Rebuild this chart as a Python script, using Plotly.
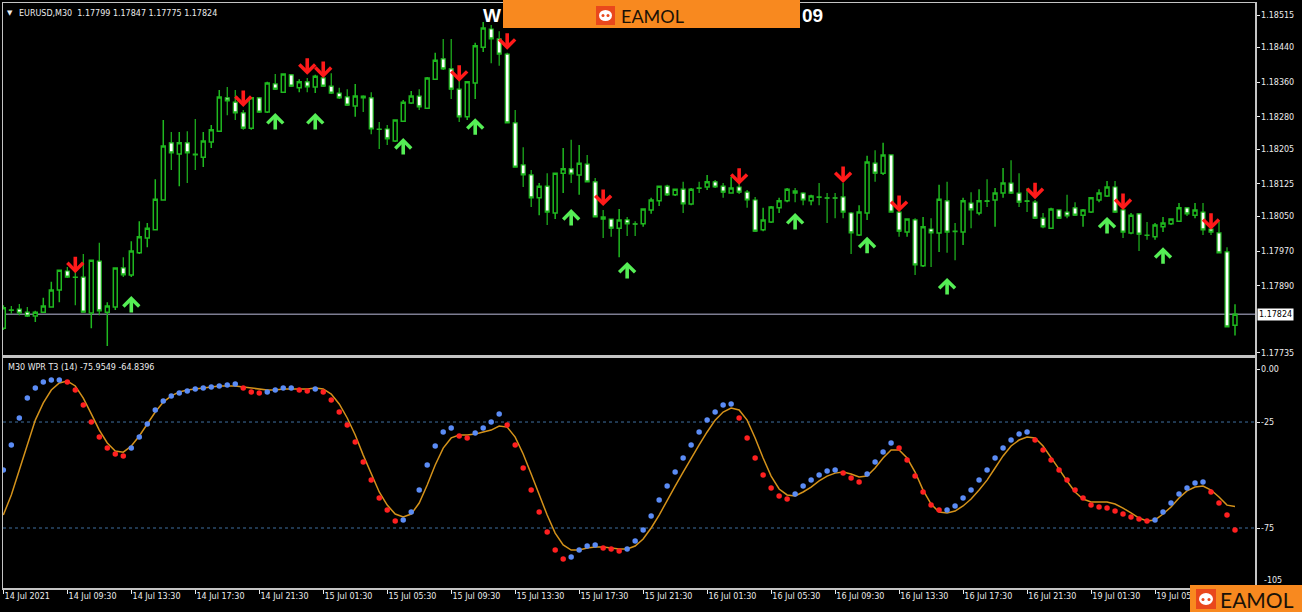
import plotly.graph_objects as go

# ---------------- data ----------------
tick_positions = [0, 8, 16, 24, 32, 40, 48, 56, 64, 72, 80, 88, 96, 104, 112, 120, 128, 136, 144]
tick_labels = ["14 Jul 2021", "14 Jul 09:30", "14 Jul 13:30", "14 Jul 17:30", "14 Jul 21:30",
               "15 Jul 01:30", "15 Jul 05:30", "15 Jul 09:30", "15 Jul 13:30", "15 Jul 17:30",
               "15 Jul 21:30", "16 Jul 01:30", "16 Jul 05:30", "16 Jul 09:30", "16 Jul 13:30",
               "16 Jul 17:30", "16 Jul 21:30", "19 Jul 01:30", "19 Jul 05:30"]

open_p = [1.17792, 1.17834, 1.17836, 1.17829, 1.17820, 1.17829, 1.17841, 1.17880, 1.17924, 1.17910,
          1.17910, 1.17827, 1.17947, 1.17829, 1.17841, 1.17931, 1.17915, 1.17966, 1.18000, 1.18019,
          1.18088, 1.18220, 1.18194, 1.18220, 1.18194, 1.18187, 1.18222, 1.18247, 1.18324, 1.18314,
          1.18289, 1.18254, 1.18324, 1.18291, 1.18356, 1.18337, 1.18377, 1.18347, 1.18361, 1.18349,
          1.18370, 1.18351, 1.18335, 1.18326, 1.18305, 1.18328, 1.18324, 1.18252, 1.18252, 1.18224,
          1.18270, 1.18312, 1.18328, 1.18300, 1.18367, 1.18414, 1.18391, 1.18344, 1.18280, 1.18358,
          1.18441, 1.18483, 1.18460, 1.18425, 1.18266, 1.18169, 1.18146, 1.18093, 1.18120, 1.18058,
          1.18150, 1.18160, 1.18146, 1.18171, 1.18130, 1.18049, 1.18044, 1.18023, 1.18042, 1.18033,
          1.18033, 1.18065, 1.18086, 1.18120, 1.18100, 1.18113, 1.18079, 1.18116, 1.18118, 1.18130,
          1.18120, 1.18104, 1.18118, 1.18106, 1.18088, 1.18019, 1.18037, 1.18070, 1.18086, 1.18109,
          1.18104, 1.18086, 1.18095, 1.18093, 1.18093, 1.18095, 1.18058, 1.18007, 1.18058, 1.18173,
          1.18150, 1.18192, 1.18060, 1.18014, 1.18042, 1.17936, 1.18021, 1.18012, 1.18086, 1.18016,
          1.18014, 1.18081, 1.18058, 1.18086, 1.18088, 1.18104, 1.18127, 1.18104, 1.18086, 1.18083,
          1.18046, 1.18023, 1.18065, 1.18060, 1.18070, 1.18053, 1.18060, 1.18088, 1.18097, 1.18118,
          1.18065, 1.18012, 1.18056, 1.18007, 1.18003, 1.18026, 1.18033, 1.18039, 1.18070, 1.18053,
          1.18060, 1.18021, 1.18012, 1.17968, 1.17799]

high_p = [1.17845, 1.17843, 1.17848, 1.17841, 1.17832, 1.17862, 1.17899, 1.17926, 1.17933, 1.17956,
          1.17963, 1.17949, 1.17989, 1.17852, 1.17931, 1.17956, 1.17993, 1.18039, 1.18035, 1.18136,
          1.18273, 1.18245, 1.18245, 1.18247, 1.18275, 1.18245, 1.18261, 1.18342, 1.18349, 1.18342,
          1.18296, 1.18326, 1.18326, 1.18361, 1.18379, 1.18381, 1.18379, 1.18367, 1.18370, 1.18377,
          1.18381, 1.18381, 1.18347, 1.18344, 1.18356, 1.18330, 1.18337, 1.18268, 1.18261, 1.18273,
          1.18319, 1.18340, 1.18344, 1.18372, 1.18428, 1.18460, 1.18460, 1.18372, 1.18361, 1.18451,
          1.18499, 1.18492, 1.18478, 1.18428, 1.18296, 1.18210, 1.18157, 1.18127, 1.18150, 1.18150,
          1.18208, 1.18227, 1.18215, 1.18192, 1.18139, 1.18065, 1.18044, 1.18067, 1.18049, 1.18039,
          1.18067, 1.18093, 1.18120, 1.18123, 1.18113, 1.18130, 1.18116, 1.18130, 1.18146, 1.18134,
          1.18127, 1.18141, 1.18141, 1.18111, 1.18095, 1.18070, 1.18074, 1.18093, 1.18116, 1.18116,
          1.18106, 1.18100, 1.18127, 1.18104, 1.18104, 1.18127, 1.18060, 1.18076, 1.18190, 1.18203,
          1.18220, 1.18192, 1.18088, 1.18046, 1.18046, 1.18049, 1.18046, 1.18123, 1.18130, 1.18035,
          1.18093, 1.18106, 1.18113, 1.18136, 1.18116, 1.18162, 1.18180, 1.18150, 1.18116, 1.18088,
          1.18058, 1.18070, 1.18065, 1.18100, 1.18083, 1.18067, 1.18095, 1.18113, 1.18132, 1.18132,
          1.18079, 1.18058, 1.18058, 1.18037, 1.18035, 1.18049, 1.18046, 1.18081, 1.18072, 1.18081,
          1.18081, 1.18042, 1.18039, 1.17979, 1.17847]

low_p = [1.17788, 1.17825, 1.17822, 1.17818, 1.17806, 1.17827, 1.17839, 1.17852, 1.17908, 1.17845,
         1.17829, 1.17792, 1.17822, 1.17751, 1.17834, 1.17910, 1.17910, 1.17963, 1.17979, 1.18019,
         1.18088, 1.18157, 1.18120, 1.18127, 1.18157, 1.18164, 1.18208, 1.18247, 1.18284, 1.18273,
         1.18250, 1.18250, 1.18289, 1.18289, 1.18342, 1.18335, 1.18349, 1.18337, 1.18337, 1.18335,
         1.18349, 1.18333, 1.18321, 1.18305, 1.18280, 1.18291, 1.18240, 1.18206, 1.18215, 1.18222,
         1.18268, 1.18310, 1.18296, 1.18300, 1.18365, 1.18388, 1.18321, 1.18268, 1.18273, 1.18321,
         1.18430, 1.18404, 1.18398, 1.18266, 1.18164, 1.18118, 1.18072, 1.18053, 1.18030, 1.18044,
         1.18104, 1.18127, 1.18100, 1.18130, 1.18049, 1.18000, 1.18003, 1.17956, 1.18005, 1.18005,
         1.18026, 1.18056, 1.18074, 1.18097, 1.18097, 1.18058, 1.18076, 1.18104, 1.18111, 1.18116,
         1.18093, 1.18104, 1.18102, 1.18070, 1.18014, 1.18016, 1.18035, 1.18058, 1.18083, 1.18083,
         1.18076, 1.18076, 1.18076, 1.18035, 1.18046, 1.18046, 1.17963, 1.18005, 1.18042, 1.18130,
         1.18146, 1.18060, 1.18003, 1.18003, 1.17915, 1.17933, 1.17933, 1.17968, 1.17966, 1.17949,
         1.17984, 1.18023, 1.18053, 1.18072, 1.18026, 1.18093, 1.18102, 1.18072, 1.18060, 1.18044,
         1.18023, 1.18021, 1.18044, 1.18046, 1.18051, 1.18026, 1.18058, 1.18083, 1.18095, 1.18058,
         1.18000, 1.18009, 1.17970, 1.17996, 1.17996, 1.18014, 1.18030, 1.18037, 1.18051, 1.18046,
         1.18007, 1.18007, 1.17966, 1.17795, 1.17775]

close_p = [1.17839, 1.17833, 1.17827, 1.17820, 1.17829, 1.17843, 1.17880, 1.17926, 1.17910, 1.17909,
           1.17829, 1.17949, 1.17832, 1.17843, 1.17931, 1.17915, 1.17970, 1.18003, 1.18023, 1.18090,
           1.18213, 1.18197, 1.18220, 1.18197, 1.18192, 1.18224, 1.18250, 1.18326, 1.18317, 1.18289,
           1.18254, 1.18324, 1.18291, 1.18358, 1.18344, 1.18379, 1.18351, 1.18361, 1.18349, 1.18374,
           1.18351, 1.18335, 1.18324, 1.18307, 1.18328, 1.18324, 1.18252, 1.18251, 1.18229, 1.18273,
           1.18314, 1.18328, 1.18303, 1.18370, 1.18411, 1.18391, 1.18344, 1.18280, 1.18361, 1.18444,
           1.18485, 1.18460, 1.18425, 1.18266, 1.18164, 1.18146, 1.18093, 1.18120, 1.18060, 1.18150,
           1.18160, 1.18148, 1.18173, 1.18130, 1.18049, 1.18044, 1.18023, 1.18042, 1.18033, 1.18032,
           1.18067, 1.18088, 1.18120, 1.18100, 1.18113, 1.18079, 1.18113, 1.18115, 1.18130, 1.18118,
           1.18106, 1.18116, 1.18106, 1.18088, 1.18016, 1.18042, 1.18072, 1.18086, 1.18113, 1.18104,
           1.18088, 1.18097, 1.18094, 1.18092, 1.18092, 1.18060, 1.18012, 1.18060, 1.18176, 1.18150,
           1.18192, 1.18060, 1.18016, 1.18044, 1.17938, 1.18026, 1.18012, 1.18090, 1.18014, 1.18015,
           1.18086, 1.18065, 1.18086, 1.18085, 1.18104, 1.18127, 1.18104, 1.18083, 1.18085, 1.18046,
           1.18026, 1.18067, 1.18046, 1.18051, 1.18053, 1.18065, 1.18093, 1.18104, 1.18118, 1.18060,
           1.18014, 1.18053, 1.18009, 1.18006, 1.18030, 1.18035, 1.18044, 1.18070, 1.18056, 1.18065,
           1.18019, 1.18014, 1.17966, 1.17795, 1.17824]

last_price = 1.17824
price_ticks = [1.18515, 1.18440, 1.18360, 1.18280, 1.18205, 1.18125, 1.18050, 1.17970, 1.17890, 1.17735]

# WPR T3 dots and its signal line (lower window)
wpr_t3 = [-47.6, -35.8, -23.1, -13.7, -9.0, -6.1, -5.2, -5.2, -6.1, -9.9,
          -17.0, -25.0, -32.1, -37.3, -40.1, -41.0, -37.3, -32.1, -25.9, -19.3,
          -15.1, -12.7, -11.3, -10.4, -9.4, -9.0, -8.5, -8.0, -7.5, -7.1,
          -9.0, -10.8, -11.3, -10.8, -9.9, -9.0, -9.0, -9.9, -10.4, -9.4,
          -10.8, -14.6, -20.3, -26.4, -34.4, -43.9, -52.4, -60.8, -66.5, -71.7,
          -71.2, -67.5, -57.1, -45.3, -36.3, -29.7, -27.8, -31.6, -32.5, -30.2,
          -27.8, -25.0, -21.2, -26.4, -35.8, -46.7, -57.1, -67.5, -76.9, -85.4,
          -89.6, -88.7, -85.4, -83.5, -83.0, -84.4, -84.9, -85.8, -84.9, -81.1,
          -75.9, -69.3, -61.8, -55.2, -48.6, -42.0, -35.8, -29.7, -24.1, -20.3,
          -17.0, -16.5, -23.1, -32.5, -42.0, -50.0, -56.1, -59.9, -61.3, -59.0,
          -55.2, -52.4, -50.0, -48.1, -47.6, -49.1, -51.4, -53.3, -49.5, -43.9,
          -39.2, -34.9, -37.3, -42.9, -50.5, -58.0, -64.2, -66.5, -66.5, -64.6,
          -60.8, -57.1, -52.4, -47.6, -42.0, -37.3, -33.5, -30.7, -29.7, -33.5,
          -38.2, -42.9, -47.6, -52.4, -57.1, -60.8, -64.2, -65.1, -65.6, -67.0,
          -68.4, -69.8, -70.8, -71.7, -71.2, -67.5, -63.2, -59.0, -56.1, -53.8,
          -53.3, -58.0, -63.2, -68.9, -75.9549]

wpr_signal = [-68.9, -59.4, -47.6, -35.8, -24.1, -16.0, -9.9, -6.6, -5.7, -8.0,
              -13.7, -21.2, -28.8, -34.9, -38.7, -39.2, -36.3, -31.6, -25.9, -20.3,
              -15.6, -12.7, -10.8, -9.9, -9.4, -9.0, -8.5, -8.0, -8.0, -8.0,
              -8.5, -9.0, -9.4, -9.9, -9.9, -9.4, -9.4, -9.4, -9.4, -9.0,
              -9.4, -11.8, -16.5, -23.1, -31.1, -40.6, -49.5, -58.0, -64.2, -68.4,
              -69.8, -68.4, -63.2, -54.7, -45.3, -37.3, -32.5, -31.1, -31.1, -30.7,
              -29.7, -28.8, -26.9, -27.4, -32.1, -40.1, -49.5, -59.4, -68.9, -77.4,
              -83.0, -85.4, -85.4, -84.4, -84.0, -84.0, -84.4, -84.9, -84.9, -83.5,
              -80.2, -75.0, -68.9, -61.8, -55.2, -48.6, -42.0, -35.8, -29.7, -24.1,
              -20.3, -18.4, -19.3, -24.1, -32.5, -42.0, -50.5, -56.6, -59.4, -59.9,
              -58.0, -55.7, -52.8, -50.5, -49.1, -48.6, -49.5, -50.9, -50.5, -46.7,
              -42.0, -38.2, -38.2, -42.0, -48.6, -57.1, -63.7, -67.5, -67.9, -67.0,
              -64.6, -61.3, -57.1, -52.4, -46.7, -41.0, -36.3, -33.5, -32.1, -32.5,
              -36.3, -41.5, -47.2, -52.8, -58.0, -61.3, -62.7, -62.7, -62.7, -63.7,
              -65.6, -67.9, -70.3, -71.7, -71.2, -68.4, -65.1, -60.8, -57.5, -55.7,
              -55.2, -57.1, -60.4, -64.2, -64.8396]

wpr_levels = [-25, -75]
wpr_ticks = [0, -25, -75]
wpr_ticktext = ["0.00", "-25", "-75"]

# signal arrows: candle index and arrow-tip price
down_arrow_idx = [9, 30, 38, 40, 57, 63, 75, 92, 105, 112, 129, 140, 151]
down_arrow_tip = [1.17919, 1.18303, 1.18377, 1.18370, 1.18361, 1.18435, 1.18074, 1.18123,
                  1.18127, 1.18060, 1.18090, 1.18065, 1.18019]
up_arrow_idx = [16, 34, 39, 50, 59, 71, 78, 99, 108, 118, 138, 145]
up_arrow_tip = [1.17866, 1.18289, 1.18289, 1.18231, 1.18277, 1.18067, 1.17945, 1.18058,
                1.18003, 1.17908, 1.18049, 1.17979]

# ---------------- styling ----------------
GREEN = "#1fb81f"
FRAME = "#c4c4c4"
TXT = "#ececec"
FONT = "DejaVu Sans"
ORANGE = "#f8891f"

W, H = 1302, 612
ML, MR, MT, MB = 3, 47, 3, 24
PW, PH = W - ML - MR, H - MT - MB


def px(x):
    return (x - ML) / PW


def py(y):
    return (H - MB - y) / PH


n = len(close_p)
idx = list(range(n))
dot_colors = ["#5b8cf5" if (i == 0 or wpr_t3[i] >= wpr_t3[i - 1]) else "#ff2020" for i in range(n)]

fig = go.Figure()

fig.add_trace(go.Candlestick(
    x=idx, open=open_p, high=high_p, low=low_p, close=close_p,
    xaxis="x", yaxis="y",
    increasing=dict(line=dict(color=GREEN, width=1.5), fillcolor="black"),
    decreasing=dict(line=dict(color=GREEN, width=1.2), fillcolor="white"),
    showlegend=False, hoverinfo="skip"))

fig.add_trace(go.Scatter(
    x=idx, y=wpr_signal, xaxis="x2", yaxis="y2", mode="lines",
    line=dict(color="#d4921a", width=1.5), showlegend=False, hoverinfo="skip"))

fig.add_trace(go.Scatter(
    x=idx, y=wpr_t3, xaxis="x2", yaxis="y2", mode="markers",
    marker=dict(color=dot_colors, size=5.5, line=dict(width=0)),
    showlegend=False, hoverinfo="skip"))

shapes = []
# current price line
shapes.append(dict(type="line", xref="x domain", yref="y", x0=0, x1=1, y0=last_price, y1=last_price,
                   line=dict(color="#7d7d92", width=1.5), layer="below"))
# WPR levels
for lv in wpr_levels:
    shapes.append(dict(type="line", xref="x2 domain", yref="y2", x0=0, x1=1, y0=lv, y1=lv,
                       line=dict(color="#3f6f9f", width=1, dash="dot"), layer="below"))

# top orange banner
shapes.append(dict(type="rect", xref="paper", yref="paper", x0=px(503), x1=px(800), y0=py(28), y1=py(-2),
                   fillcolor=ORANGE, line=dict(width=0), layer="above"))
# banner icon
shapes.append(dict(type="rect", xref="paper", yref="paper", x0=px(596), x1=px(615), y0=py(25), y1=py(6),
                   fillcolor="#e9481c", line=dict(width=0), layer="above"))
shapes.append(dict(type="circle", xref="paper", yref="paper", x0=px(599), x1=px(612), y0=py(21), y1=py(10),
                   fillcolor="white", line=dict(width=0), layer="above"))
shapes.append(dict(type="circle", xref="paper", yref="paper", x0=px(601.5), x1=px(604.5), y0=py(17), y1=py(14),
                   fillcolor="#e9481c", line=dict(width=0), layer="above"))
shapes.append(dict(type="circle", xref="paper", yref="paper", x0=px(606.5), x1=px(609.5), y0=py(17), y1=py(14),
                   fillcolor="#e9481c", line=dict(width=0), layer="above"))
# bottom-right logo
shapes.append(dict(type="rect", xref="paper", yref="paper", x0=px(1190), x1=px(1304), y0=py(614), y1=py(585),
                   fillcolor=ORANGE, line=dict(width=0), layer="above"))
shapes.append(dict(type="rect", xref="paper", yref="paper", x0=px(1196), x1=px(1216), y0=py(609), y1=py(589),
                   fillcolor="#e9481c", line=dict(width=0), layer="above"))
shapes.append(dict(type="circle", xref="paper", yref="paper", x0=px(1199), x1=px(1213), y0=py(605), y1=py(593),
                   fillcolor="white", line=dict(width=0), layer="above"))
shapes.append(dict(type="circle", xref="paper", yref="paper", x0=px(1201.5), x1=px(1204.5), y0=py(601), y1=py(598),
                   fillcolor="#e9481c", line=dict(width=0), layer="above"))
shapes.append(dict(type="circle", xref="paper", yref="paper", x0=px(1207.5), x1=px(1210.5), y0=py(601), y1=py(598),
                   fillcolor="#e9481c", line=dict(width=0), layer="above"))

annotations = []
for i, t in zip(down_arrow_idx, down_arrow_tip):
    annotations.append(dict(x=i, y=t, xref="x", yref="y", text="", showarrow=True, ax=0, ay=-18,
                            arrowhead=4, arrowsize=0.85, arrowwidth=3.6, arrowcolor="#ff1a1a"))
for i, t in zip(up_arrow_idx, up_arrow_tip):
    annotations.append(dict(x=i, y=t, xref="x", yref="y", text="", showarrow=True, ax=0, ay=18,
                            arrowhead=4, arrowsize=0.85, arrowwidth=3.6, arrowcolor="#55ee55"))

# headers
annotations.append(dict(xref="paper", yref="paper", x=px(5), y=py(13), xanchor="left", yanchor="middle",
                        text="▼", showarrow=False, font=dict(family=FONT, size=7, color=TXT)))
annotations.append(dict(xref="paper", yref="paper", x=px(17), y=py(13), xanchor="left", yanchor="middle",
                        text="EURUSD,M30  1.17799 1.17847 1.17775 1.17824", showarrow=False,
                        font=dict(family=FONT, size=8, color=TXT)))
annotations.append(dict(xref="paper", yref="paper", x=px(6), y=py(367), xanchor="left", yanchor="middle",
                        text="M30 WPR T3 (14) -75.9549 -64.8396", showarrow=False,
                        font=dict(family=FONT, size=8, color=TXT)))
# current price box
annotations.append(dict(xref="paper", yref="y", x=px(1257), y=last_price, xanchor="left", yanchor="middle",
                        text="1.17824", showarrow=False, bgcolor="white", borderpad=1,
                        font=dict(family=FONT, size=8, color="black")))
annotations.append(dict(xref="paper", yref="paper", x=px(1262), y=py(580), xanchor="left", yanchor="middle",
                        text="-105", showarrow=False, font=dict(family=FONT, size=8, color=TXT)))
# watermark fragments around the banner
annotations.append(dict(xref="paper", yref="paper", x=px(503), y=py(15), xanchor="right", yanchor="middle",
                        text="<b>W</b>", showarrow=False, font=dict(family="Liberation Sans", size=19, color="white")))
annotations.append(dict(xref="paper", yref="paper", x=px(800), y=py(15), xanchor="left", yanchor="middle",
                        text="<b>09</b>", showarrow=False, font=dict(family="Liberation Sans", size=19, color="white")))
# logo texts
annotations.append(dict(xref="paper", yref="paper", x=px(619), y=py(16), xanchor="left", yanchor="middle",
                        text="EAMOL", showarrow=False, font=dict(family="Lato", size=18, color="#1a1208")))
annotations.append(dict(xref="paper", yref="paper", x=px(1218), y=py(599), xanchor="left", yanchor="middle",
                        text="EAMOL", showarrow=False, font=dict(family="Lato", size=21, color="#1a1208")))

axis_common = dict(showgrid=False, zeroline=False, showline=True, mirror=True, linecolor=FRAME, linewidth=1.5,
                   automargin=False)

fig.update_layout(
    width=W, height=H,
    margin=dict(l=ML, r=MR, t=MT, b=MB, autoexpand=False),
    paper_bgcolor="black", plot_bgcolor="black",
    showlegend=False,
    hovermode=False,
    xaxis=dict(domain=[0, 1], anchor="y", range=[-0.04, 156.5], showticklabels=False, ticks="",
               rangeslider=dict(visible=False), **axis_common),
    yaxis=dict(domain=[py(355), 1], anchor="x", side="right", range=[1.17730, 1.18543],
               tickvals=price_ticks, ticktext=["%.5f" % v for v in price_ticks],
               ticks="outside", ticklen=3, tickcolor=TXT,
               tickfont=dict(family=FONT, size=8, color=TXT), **axis_common),
    xaxis2=dict(domain=[0, 1], anchor="y2", matches="x", range=[-0.04, 156.5],
                tickvals=tick_positions, ticktext=tick_labels, ticklabelposition="outside right",
                ticks="outside", ticklen=4, tickcolor=TXT,
                tickfont=dict(family=FONT, size=8, color=TXT), **axis_common),
    yaxis2=dict(domain=[0, py(358)], anchor="x2", side="right", range=[-103.3, 5.2],
                tickvals=wpr_ticks, ticktext=wpr_ticktext,
                ticks="outside", ticklen=3, tickcolor=TXT,
                tickfont=dict(family=FONT, size=8, color=TXT), **axis_common),
    shapes=shapes,
    annotations=annotations,
)

fig.write_html("out.html", config={"displayModeBar": False, "staticPlot": True},
               post_script="document.body.style.margin='0';document.body.style.overflow='hidden';")
